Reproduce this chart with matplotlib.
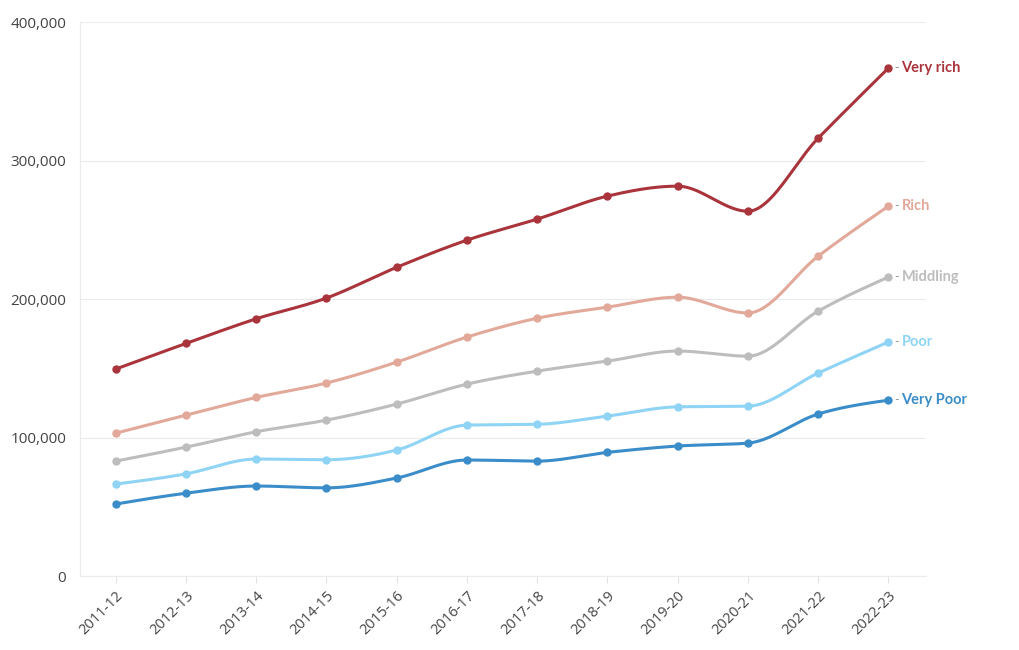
import numpy as np
import matplotlib.pyplot as plt
from matplotlib.ticker import FuncFormatter

# Dados
anos = ["2011-12", "2012-13", "2013-14", "2014-15", "2015-16", "2016-17",
        "2017-18", "2018-19", "2019-20", "2020-21", "2021-22", "2022-23"]

very_rich = [149500, 168000, 185800, 200800, 223000, 242600, 257800, 274400, 281600, 263500, 316200, 366800]
rich = [103200, 116200, 129000, 139400, 154500, 172600, 186200, 194200, 201400, 190000, 231000, 267100]
middling = [83000, 93100, 104200, 112600, 124200, 138600, 148000, 155200, 162500, 158800, 191300, 215900]
poor = [66400, 73800, 84500, 84000, 91000, 109000, 109600, 115500, 122200, 122700, 146600, 169000]
very_poor = [52000, 59800, 65000, 63700, 70800, 83800, 83000, 89300, 93900, 96000, 117000, 127000]

series_names = ["Very rich", "Rich", "Middling", "Poor", "Very Poor"]
series_values = [very_rich, rich, middling, poor, very_poor]
series_colors = ["#aa343b", "#e2a99a", "#bdbdbd", "#8fd4f5", "#3b8dc9"]


# Curva monotona (estilo d3 curveMonotoneX) so para desenhar a linha
def curva_monotona(y, n=40):
    y = np.asarray(y, dtype=float)
    s = np.diff(y)
    t = np.zeros_like(y)
    for i in range(1, len(y) - 1):
        s0, s1 = s[i - 1], s[i]
        p = (s0 + s1) / 2
        t[i] = (np.sign(s0) + np.sign(s1)) * min(abs(s0), abs(s1), 0.5 * abs(p))
    t[0] = (3 * s[0] - t[1]) / 2
    t[-1] = (3 * s[-1] - t[-2]) / 2
    xs, ys = [], []
    for i in range(len(y) - 1):
        u = np.linspace(0, 1, n, endpoint=False)
        h00 = 2 * u**3 - 3 * u**2 + 1
        h10 = u**3 - 2 * u**2 + u
        h01 = -2 * u**3 + 3 * u**2
        h11 = u**3 - u**2
        xs.append(i + u)
        ys.append(h00 * y[i] + h10 * t[i] + h01 * y[i + 1] + h11 * t[i + 1])
    xs.append([len(y) - 1])
    ys.append([y[-1]])
    return np.concatenate(xs), np.concatenate(ys)


fig = plt.figure(figsize=(10.2, 6.5), dpi=100)
ax = fig.add_axes([0.0784, 0.1138, 0.829, 0.852])

x = np.arange(len(anos))
for nome, valores, cor in zip(series_names, series_values, series_colors):
    cx, cy = curva_monotona(valores)
    ax.plot(cx, cy, color=cor, lw=2.2, solid_capstyle="round", zorder=3)
    ax.plot(x, valores, "o", color=cor, ms=5, zorder=4)
    ax.annotate("-", (x[-1], valores[-1]), xytext=(4, 0), textcoords="offset points",
                va="center", ha="left", color="#999999", fontsize=9, family="Lato")
    ax.annotate(nome, (x[-1], valores[-1]), xytext=(9.5, 0), textcoords="offset points",
                va="center", ha="left", color=cor, fontsize=10.5, fontweight="bold",
                family="Lato", annotation_clip=False)

ax.set_xlim(-0.51, 11.53)
ax.set_ylim(0, 400000)
ax.set_yticks([0, 100000, 200000, 300000, 400000])
ax.yaxis.set_major_formatter(FuncFormatter(lambda v, p: f"{int(v):,}"))
ax.set_xticks(x)
ax.set_xticklabels(anos, rotation=45, ha="right", rotation_mode="anchor")

ax.grid(axis="y", color="#ebebeb", lw=0.8)
ax.set_axisbelow(True)
for lado in ["top", "right"]:
    ax.spines[lado].set_visible(False)
ax.spines["left"].set_color("#ebebeb")
ax.spines["bottom"].set_color("#ebebeb")
ax.tick_params(axis="y", length=0, pad=10, labelsize=11, labelcolor="#444444")
ax.tick_params(axis="x", length=5, color="#e3e3e3", pad=4, labelsize=10.5, labelcolor="#444444")
for lbl in ax.get_xticklabels() + ax.get_yticklabels():
    lbl.set_family("Open Sans")

fig.savefig("out.png", dpi=100)
